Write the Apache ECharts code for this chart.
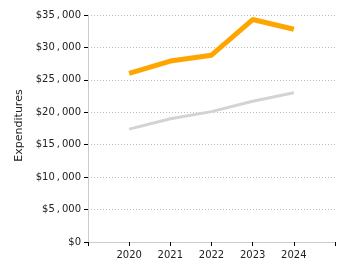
<!DOCTYPE html>
<html>
<head>
<meta charset="utf-8">
<script src="https://cdn.jsdelivr.net/npm/echarts@6/dist/echarts.min.js"></script>
<style>
  html, body { margin: 0; padding: 0; background: #fff; }
  #chart { width: 350px; height: 275px; }
</style>
</head>
<body>
<div id="chart"></div>
<script>
const years = [2020, 2021, 2022, 2023, 2024]
const orangeSeries = [26000, 27900, 28800, 34300, 32800]
const graySeries = [17400, 19000, 20100, 21700, 23000]
const yTicks = [0, 5000, 10000, 15000, 20000, 25000, 30000, 35000]

const chart = echarts.init(document.getElementById('chart'))
const font = 'DejaVu Sans'

const option = {
    animation: false,
    textStyle: { fontFamily: font },
    grid: { left: 88, right: 15, top: 15, bottom: 33 },
    xAxis: {
        type: 'value',
        min: 2019,
        max: 2025,
        interval: 1,
        axisLine: { lineStyle: { color: '#ccc' } },
        axisTick: { show: true, length: 4, lineStyle: { color: '#000' } },
        splitLine: { show: false },
        axisLabel: {
            color: '#222',
            fontSize: 10,
            margin: 8,
            formatter: v => years.includes(v) ? String(v) : ''
        }
    },
    yAxis: {
        type: 'value',
        min: yTicks[0],
        max: yTicks[yTicks.length - 1],
        interval: 5000,
        name: 'Expenditures',
        nameLocation: 'middle',
        nameGap: 62,
        nameTextStyle: { color: '#222', fontSize: 11, padding: [0, 0, 0, 6] },
        axisLine: { show: true, lineStyle: { color: '#ccc' } },
        axisTick: { show: true, length: 4, lineStyle: { color: '#000' } },
        splitLine: { lineStyle: { color: '#bbb', type: [1, 2] } },
        axisLabel: {
            color: '#222',
            fontSize: 10,
            margin: 7,
            // the reference spaces the thousands comma out a little
            formatter: v => '$' + v.toLocaleString('en-US').replace(',', '\u2009,\u2009')
        }
    },
    series: [
        {
            type: 'line',
            data: years.map((y, i) => [y, graySeries[i]]),
            symbol: 'none',
            lineStyle: { color: '#d3d3d3', width: 3 }
        },
        {
            type: 'line',
            data: years.map((y, i) => [y, orangeSeries[i]]),
            symbol: 'none',
            lineStyle: { color: '#ffa500', width: 5 }
        }
    ]
}

chart.setOption(option)
</script>
</body>
</html>
